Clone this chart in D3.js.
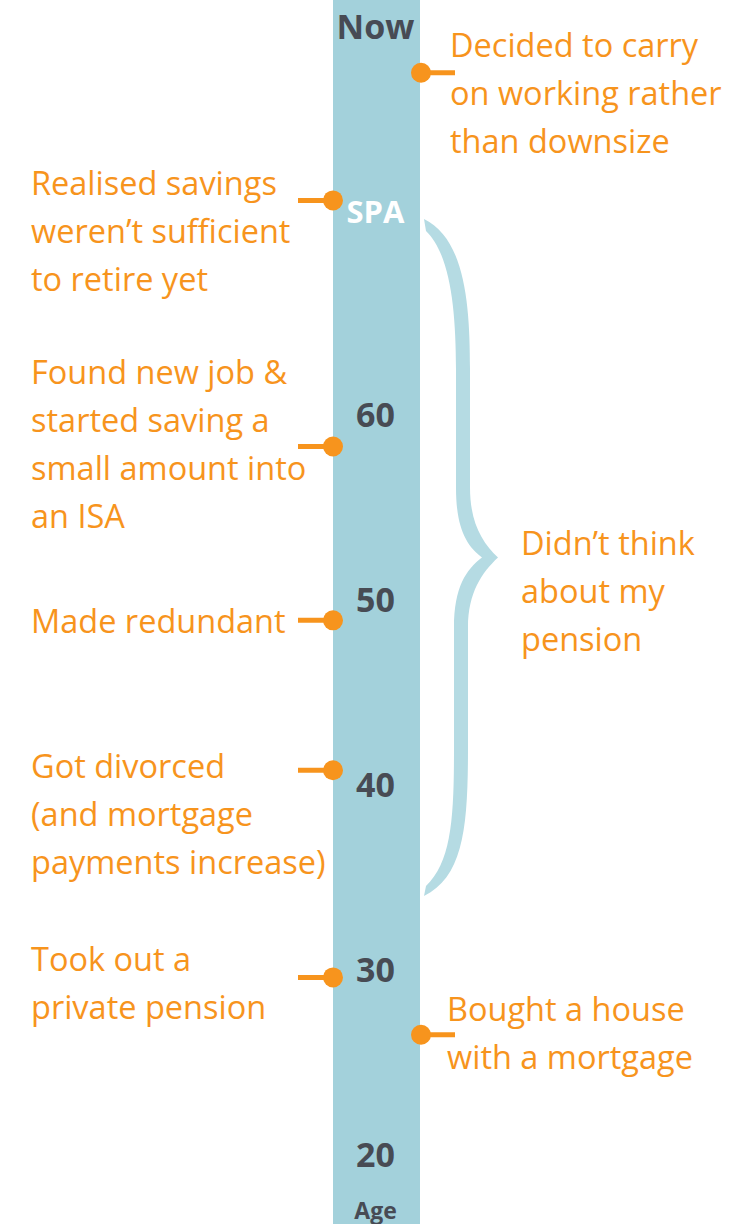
<!DOCTYPE html>
<html>
<head>
    <meta charset="utf-8">
    <script src="https://d3js.org/d3.v7.min.js"></script>
    <style>
        body { margin: 0; background: #fff; }
        svg text { font-family: "Open Sans", sans-serif; }
    </style>
</head>
<body>
<script>
    // Dane
    var tickLabels = ["20", "30", "40", "50", "60", "SPA", "Now"];
    var tickAges   = [20, 30, 40, 50, 60, 71, 81];

    var eventTexts = [
        ["Decided to carry", "on working rather", "than downsize"],
        ["Realised savings", "weren\u2019t sufficient", "to retire yet"],
        ["Found new job &", "started saving a", "small amount into", "an ISA"],
        ["Made redundant"],
        ["Got divorced", "(and mortgage", "payments increase)"],
        ["Took out a", "private pension"],
        ["Bought a house", "with a mortgage"]
    ];
    var eventAges  = [78.5, 71.6, 58.3, 48.9, 40.8, 29.6, 26.5];
    var eventSides = ["right", "left", "left", "left", "left", "left", "right"];

    var braceAges  = [70.6, 34];
    var braceText  = ["Didn\u2019t think", "about my", "pension"];

    // Uklad (tylko pozycje tekstu wzgledem kropki)
    var labelShift = [-16, -5, -62, 13, 8, -6, -14];

    var width = 740, height = 1224;
    var barX = 333, barW = 87;
    var orange = "#f7941d", grey = "#474b54";
    var lineH = 48;

    var y = d3.scaleLinear().domain([20, 60]).range([1155, 415]);

    var svg = d3.select("body").append("svg")
        .attr("width", width)
        .attr("height", height);

    // Pasek
    svg.append("rect")
        .attr("x", barX).attr("y", 0)
        .attr("width", barW).attr("height", height)
        .attr("fill", "#a3d1db");

    // Os wieku
    svg.selectAll(".tick")
        .data(tickAges)
      .enter().append("text")
        .attr("class", "tick")
        .attr("x", barX + barW / 2 - 1)
        .attr("y", function(d) { return y(d); })
        .attr("dy", "0.36em")
        .attr("text-anchor", "middle")
        .style("font-weight", "bold")
        .style("font-size", function(d, i) { return tickLabels[i] === "SPA" ? "31px" : "34px"; })
        .attr("fill", function(d, i) { return tickLabels[i] === "SPA" ? "#fff" : grey; })
        .text(function(d, i) { return tickLabels[i]; });

    svg.append("text")
        .attr("x", barX + barW / 2 - 1)
        .attr("y", 1219)
        .attr("text-anchor", "middle")
        .style("font-weight", "bold")
        .style("font-size", "23px")
        .attr("fill", grey)
        .text("Age");

    // Klamra
    var bTop = y(braceAges[0]), bBot = y(braceAges[1]), bMid = (bTop + bBot) / 2;
    var x0 = 424, x1 = 462, xt = 498;
    var bp = d3.path();
    // zewnetrzna krawedz
    bp.moveTo(x0, bTop);
    bp.bezierCurveTo(x1 + 4, bTop + 20, x1 + 8, bTop + 90, x1 + 8, bTop + 150);
    bp.lineTo(x1 + 8, bMid - 70);
    bp.bezierCurveTo(x1 + 8, bMid - 35, x1 + 20, bMid - 15, xt, bMid);
    bp.bezierCurveTo(x1 + 20, bMid + 15, x1 + 6, bMid + 35, x1 + 6, bMid + 70);
    bp.lineTo(x1 + 6, bBot - 150);
    bp.bezierCurveTo(x1 + 6, bBot - 70, x1 + 2, bBot - 20, x0, bBot);
    // wewnetrzna krawedz
    bp.lineTo(x0 + 2, bBot - 10);
    bp.bezierCurveTo(x1 - 10, bBot - 35, x1 - 8, bBot - 80, x1 - 8, bBot - 150);
    bp.lineTo(x1 - 8, bMid + 70);
    bp.bezierCurveTo(x1 - 8, bMid + 30, x1 + 4, bMid + 12, xt - 16, bMid);
    bp.bezierCurveTo(x1 + 4, bMid - 12, x1 - 6, bMid - 30, x1 - 6, bMid - 70);
    bp.lineTo(x1 - 6, bTop + 150);
    bp.bezierCurveTo(x1 - 6, bTop + 90, x1 - 12, bTop + 35, x0 + 2, bTop + 12);
    bp.closePath();

    svg.append("path")
        .attr("d", bp.toString())
        .attr("fill", "#b5dbe3");

    svg.append("text")
        .attr("fill", orange)
        .style("font-size", "32.5px")
        .selectAll("tspan")
        .data(braceText)
      .enter().append("tspan")
        .attr("x", 521)
        .attr("y", function(d, i) { return bMid - 2 + i * lineH; })
        .text(function(d) { return d; });

    // Zdarzenia
    var ev = svg.selectAll(".event")
        .data(eventAges)
      .enter().append("g")
        .attr("class", "event");

    ev.append("line")
        .attr("x1", function(d, i) { return eventSides[i] === "left" ? barX : barX + barW; })
        .attr("x2", function(d, i) { return eventSides[i] === "left" ? barX - 35 : barX + barW + 35; })
        .attr("y1", function(d) { return y(d); })
        .attr("y2", function(d) { return y(d); })
        .attr("stroke", orange)
        .attr("stroke-width", 5);

    ev.append("circle")
        .attr("cx", function(d, i) { return eventSides[i] === "left" ? barX : barX + barW + 1; })
        .attr("cy", function(d) { return y(d); })
        .attr("r", 10)
        .attr("fill", orange);

    ev.append("text")
        .attr("fill", orange)
        .style("font-size", "32.5px")
        .each(function(d, i) {
            var tx = eventSides[i] === "left" ? 31 : (i === 0 ? 450 : 447);
            d3.select(this).selectAll("tspan")
                .data(eventTexts[i])
              .enter().append("tspan")
                .attr("x", tx)
                .attr("y", function(t, j) { return y(d) + labelShift[i] + j * lineH; })
                .text(function(t) { return t; });
        });
</script>
</body>
</html>
